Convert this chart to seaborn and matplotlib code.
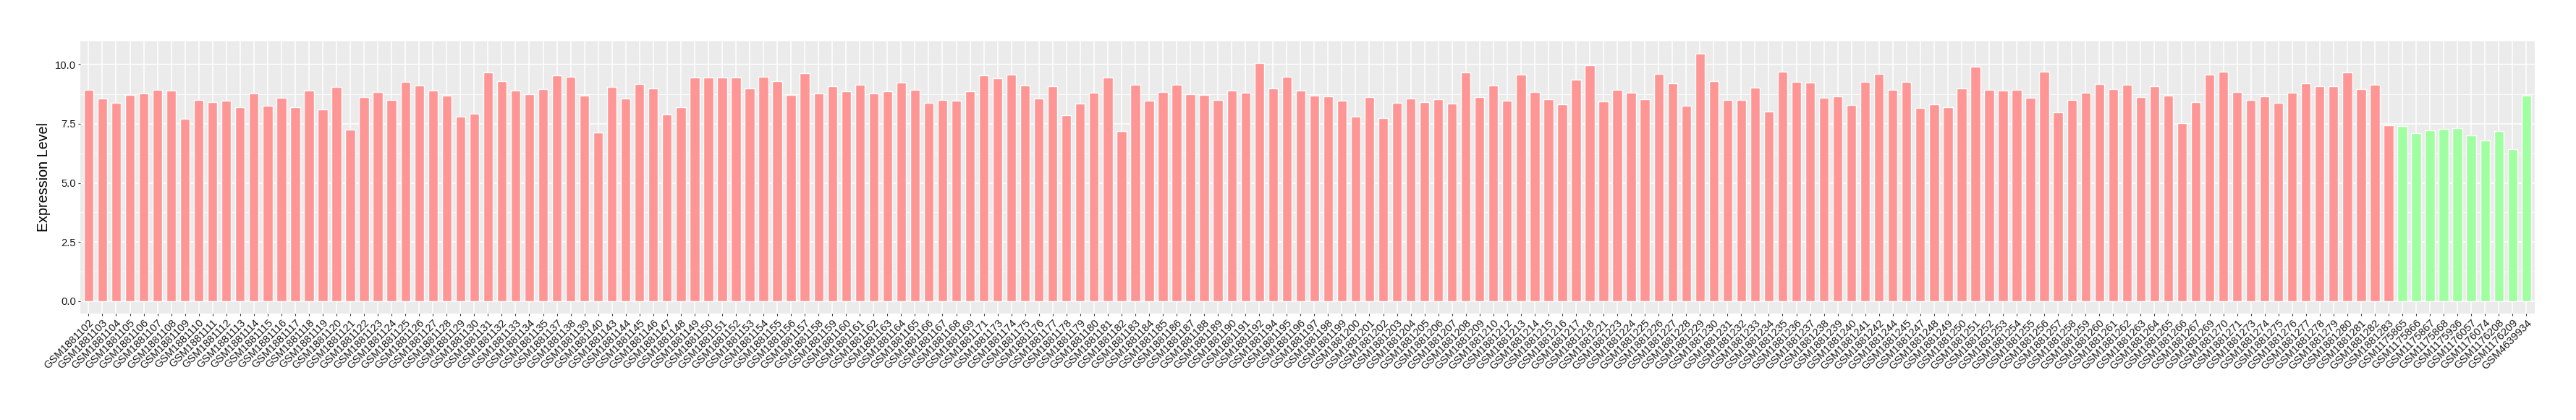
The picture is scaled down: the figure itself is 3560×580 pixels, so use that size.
import matplotlib
matplotlib.use("Agg")
import matplotlib.pyplot as plt
import seaborn as sns
import pandas as pd
from matplotlib.ticker import MultipleLocator, FormatStrFormatter

tumor_samples = [
    "GSM1881102", "GSM1881103", "GSM1881104", "GSM1881105", "GSM1881106", "GSM1881107",
    "GSM1881108", "GSM1881109", "GSM1881110", "GSM1881111", "GSM1881112", "GSM1881113",
    "GSM1881114", "GSM1881115", "GSM1881116", "GSM1881117", "GSM1881118", "GSM1881119",
    "GSM1881120", "GSM1881121", "GSM1881122", "GSM1881123", "GSM1881124", "GSM1881125",
    "GSM1881126", "GSM1881127", "GSM1881128", "GSM1881129", "GSM1881130", "GSM1881131",
    "GSM1881132", "GSM1881133", "GSM1881134", "GSM1881135", "GSM1881137", "GSM1881138",
    "GSM1881139", "GSM1881140", "GSM1881143", "GSM1881144", "GSM1881145", "GSM1881146",
    "GSM1881147", "GSM1881148", "GSM1881149", "GSM1881150", "GSM1881151", "GSM1881152",
    "GSM1881153", "GSM1881154", "GSM1881155", "GSM1881156", "GSM1881157", "GSM1881158",
    "GSM1881159", "GSM1881160", "GSM1881161", "GSM1881162", "GSM1881163", "GSM1881164",
    "GSM1881165", "GSM1881166", "GSM1881167", "GSM1881168", "GSM1881169", "GSM1881171",
    "GSM1881173", "GSM1881174", "GSM1881175", "GSM1881176", "GSM1881177", "GSM1881178",
    "GSM1881179", "GSM1881180", "GSM1881181", "GSM1881182", "GSM1881183", "GSM1881184",
    "GSM1881185", "GSM1881186", "GSM1881187", "GSM1881188", "GSM1881189", "GSM1881190",
    "GSM1881191", "GSM1881192", "GSM1881194", "GSM1881195", "GSM1881196", "GSM1881197",
    "GSM1881198", "GSM1881199", "GSM1881200", "GSM1881201", "GSM1881202", "GSM1881203",
    "GSM1881204", "GSM1881205", "GSM1881206", "GSM1881207", "GSM1881208", "GSM1881209",
    "GSM1881210", "GSM1881212", "GSM1881213", "GSM1881214", "GSM1881215", "GSM1881216",
    "GSM1881217", "GSM1881218", "GSM1881221", "GSM1881223", "GSM1881224", "GSM1881225",
    "GSM1881226", "GSM1881227", "GSM1881228", "GSM1881229", "GSM1881230", "GSM1881231",
    "GSM1881232", "GSM1881233", "GSM1881234", "GSM1881235", "GSM1881236", "GSM1881237",
    "GSM1881238", "GSM1881239", "GSM1881240", "GSM1881241", "GSM1881242", "GSM1881244",
    "GSM1881245", "GSM1881247", "GSM1881248", "GSM1881249", "GSM1881250", "GSM1881251",
    "GSM1881252", "GSM1881253", "GSM1881254", "GSM1881255", "GSM1881256", "GSM1881257",
    "GSM1881258", "GSM1881259", "GSM1881260", "GSM1881261", "GSM1881262", "GSM1881263",
    "GSM1881264", "GSM1881265", "GSM1881266", "GSM1881267", "GSM1881269", "GSM1881270",
    "GSM1881271", "GSM1881273", "GSM1881274", "GSM1881275", "GSM1881276", "GSM1881277",
    "GSM1881278", "GSM1881279", "GSM1881280", "GSM1881281", "GSM1881282", "GSM1881283",
]
tumor_values = [
    8.94, 8.56, 8.38, 8.72, 8.78, 8.94,
    8.90, 7.71, 8.51, 8.42, 8.47, 8.20,
    8.78, 8.26, 8.60, 8.20, 8.90, 8.11,
    9.06, 7.25, 8.63, 8.85, 8.51, 9.28,
    9.12, 8.90, 8.69, 7.81, 7.93, 9.67,
    9.30, 8.90, 8.76, 8.96, 9.55, 9.48,
    8.69, 7.13, 9.06, 8.56, 9.17, 8.99,
    7.90, 8.20, 9.46, 9.46, 9.46, 9.46,
    8.99, 9.48, 9.30, 8.72, 9.64, 8.78,
    9.08, 8.87, 9.15, 8.78, 8.87, 9.24,
    8.94, 8.38, 8.51, 8.47, 8.87, 9.55,
    9.42, 9.58, 9.12, 8.56, 9.08, 7.86,
    8.35, 8.81, 9.46, 7.19, 9.15, 8.47,
    8.85, 9.15, 8.76, 8.72, 8.51, 8.90,
    8.81, 10.07, 8.99, 9.48, 8.90, 8.69,
    8.65, 8.47, 7.81, 8.63, 7.74, 8.38,
    8.56, 8.42, 8.54, 8.35, 9.67, 8.63,
    9.12, 8.47, 9.58, 8.85, 8.54, 8.33,
    9.37, 9.98, 8.45, 8.94, 8.81, 8.54,
    9.60, 9.21, 8.26, 10.46, 9.30, 8.51,
    8.51, 9.03, 8.02, 9.69, 9.28, 9.24,
    8.60, 8.65, 8.29, 9.28, 9.60, 8.94,
    9.28, 8.17, 8.33, 8.20, 8.99, 9.91,
    8.94, 8.90, 8.94, 8.60, 9.69, 7.99,
    8.51, 8.81, 9.17, 8.96, 9.15, 8.63,
    9.08, 8.69, 7.52, 8.42, 9.58, 9.69,
    8.85, 8.51, 8.65, 8.38, 8.81, 9.21,
    9.08, 9.08, 9.67, 8.96, 9.15, 7.43,
]
normal_samples = [
    "GSM1175865", "GSM1175866", "GSM1175867", "GSM1175868", "GSM1175936",
    "GSM1176057", "GSM1176074", "GSM1176208", "GSM1176209", "GSM4639934",
]
normal_values = [7.41, 7.10, 7.22, 7.29, 7.31, 7.00, 6.80, 7.19, 6.43, 8.69]

group_names = ["Tumor", "Normal"]
group_colors = ["#FF9696", "#A0FFA0"]

df = pd.DataFrame({
    "sample": tumor_samples + normal_samples,
    "value": tumor_values + normal_values,
    "group": [group_names[0]] * len(tumor_samples) + [group_names[1]] * len(normal_samples),
})

sns.set_theme(style="darkgrid")
plt.rcParams["font.family"] = ["Liberation Sans", "DejaVu Sans"]

fig = plt.figure(figsize=(35.6, 5.8), dpi=100)
ax = fig.add_axes([111 / 3560, 1 - 432.7 / 580, (3502.7 - 111) / 3560, (432.7 - 57.3) / 580])
ax.set_facecolor("#EBEBEB")

sns.barplot(data=df, x="sample", y="value", hue="group", order=df["sample"].tolist(),
            hue_order=group_names, palette=dict(zip(group_names, group_colors)),
            dodge=False, width=0.7, saturation=1, legend=False, ax=ax)

n = len(df)
vmax = max(df["value"])
ax.set_xlim(-0.6, n - 1 + 0.6)
ax.set_ylim(-0.05 * vmax, vmax * 1.05)
ax.yaxis.set_major_locator(MultipleLocator(2.5))
ax.yaxis.set_minor_locator(MultipleLocator(1.25))
ax.yaxis.set_major_formatter(FormatStrFormatter("%.1f"))

ax.grid(which="major", color="white", linewidth=1.1)
ax.grid(which="minor", axis="y", color="white", linewidth=0.55)
ax.set_axisbelow(True)
for s in ax.spines.values():
    s.set_visible(False)

ax.tick_params(axis="both", which="major", length=2.5, width=0.8, color="#333333",
               labelsize=10.6, labelcolor="#1A1A1A", pad=1.8, bottom=True, left=True)
ax.tick_params(axis="y", which="minor", length=0)
plt.setp(ax.get_xticklabels(), rotation=45, ha="right", rotation_mode="anchor")
ax.set_xlabel("")
ax.set_ylabel("Expression Level", fontsize=14.2, color="black", labelpad=4)

fig.savefig("out.png", dpi=100, facecolor="white")
